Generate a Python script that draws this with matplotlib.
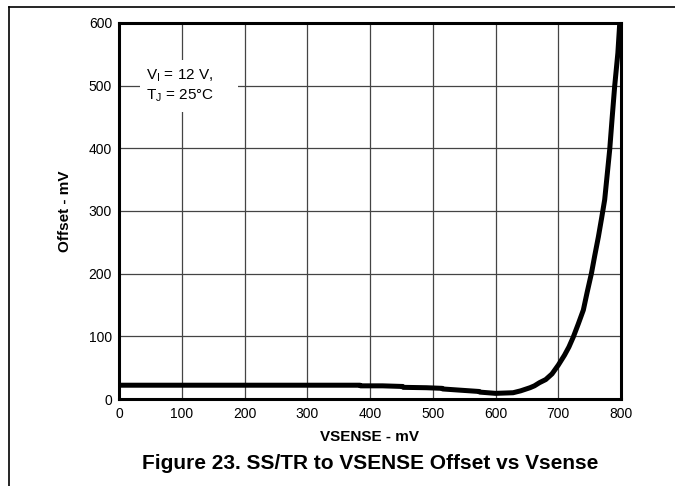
import matplotlib
matplotlib.use("Agg")
import matplotlib.pyplot as plt
from matplotlib.lines import Line2D
from matplotlib.patches import Rectangle

plt.rcParams['font.family'] = ['Liberation Sans', 'DejaVu Sans']

# curve (VSENSE mV, offset mV)
vsense = [0, 50, 100, 150, 200, 250, 300, 350, 384, 385, 420, 452, 453, 490, 515, 516,
          545, 574, 575, 600, 628, 640, 655, 662, 670, 680, 690, 700, 710, 717,
          724, 732, 740, 746, 753, 758, 764, 769, 774, 778, 782, 786, 790, 795, 798]
offset = [22, 22, 22, 22, 22, 22, 22, 22, 22, 21, 21, 20, 18.6, 18, 17, 16,
          14, 12, 11, 9, 10, 13, 18, 21, 26, 31, 40, 54, 70, 83,
          99, 120, 142, 170, 201, 228, 259, 288, 318, 358, 398, 450, 500, 552, 600]

x_ticks = [0, 100, 200, 300, 400, 500, 600, 700, 800]
y_ticks = [0, 100, 200, 300, 400, 500, 600]

fig = plt.figure(figsize=(6.75, 4.86), dpi=100)
ax = fig.add_axes([119 / 675, 1 - 399 / 486, 502 / 675, 376 / 486])

ax.plot(vsense, offset, color='black', linewidth=3.6, solid_capstyle='round',
        solid_joinstyle='round', zorder=3)

ax.set_xlim(0, 800)
ax.set_ylim(0, 600)
ax.set_xticks(x_ticks)
ax.set_yticks(y_ticks)
ax.tick_params(axis='both', which='both', length=0, labelsize=10)
ax.tick_params(axis='x', pad=6)
ax.tick_params(axis='y', pad=5)
ax.grid(True, color='#444444', linewidth=0.9)
for s in ax.spines.values():
    s.set_linewidth(2.2)
    s.set_zorder(4)

ax.set_xlabel('VSENSE - mV', fontsize=11, fontweight='bold', labelpad=6)
ax.set_ylabel('Offset - mV', fontsize=11, fontweight='bold', labelpad=12)

# white box behind the conditions note
ax.add_patch(Rectangle((33, 458), 157, 83, facecolor='white', edgecolor='none', zorder=2.5))
ax.text(43, 500, 'V$_\\mathregular{I}$ = 12 V,\nT$_\\mathregular{J}$ = 25°C', fontsize=11,
        va='center', ha='left', linespacing=1.35, zorder=5)

fig.text(370 / 675, 1 - 463 / 486, 'Figure 23. SS/TR to VSENSE Offset vs Vsense',
         ha='center', va='center', fontsize=15, fontweight='bold')

# page frame lines
fig.add_artist(Line2D([9 / 675, 1], [1 - 7 / 486, 1 - 7 / 486], color='black', linewidth=1.2,
                      transform=fig.transFigure))
fig.add_artist(Line2D([9 / 675, 9 / 675], [0, 1 - 7 / 486], color='black', linewidth=1.2,
                      transform=fig.transFigure))

fig.savefig('out.png', dpi=100)
